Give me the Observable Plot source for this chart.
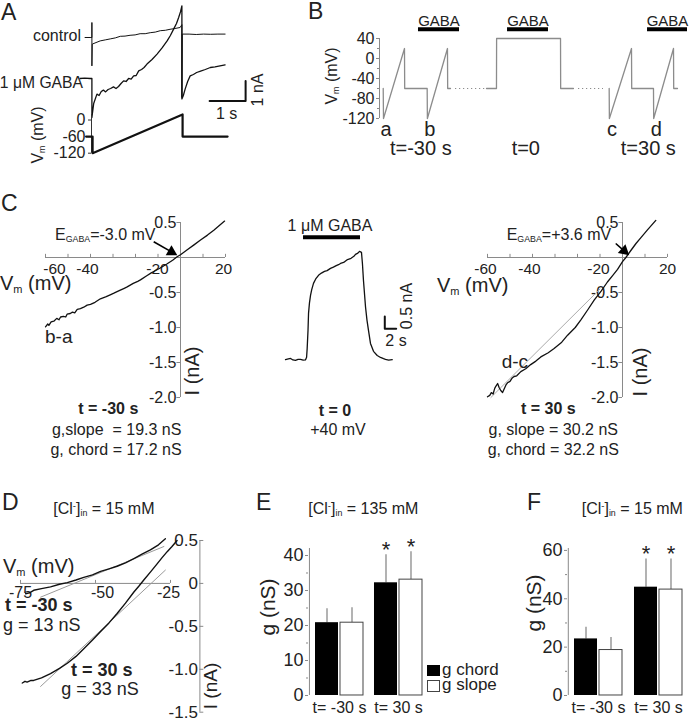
<!DOCTYPE html>
<html><head><meta charset="utf-8">
<script src="https://cdn.jsdelivr.net/npm/d3@7"></script>
<script src="https://cdn.jsdelivr.net/npm/@observablehq/plot@0.6"></script>
<style>
body{margin:0;background:#fff}
#fig{position:relative;width:690px;height:720px;overflow:hidden;font-family:'Liberation Sans',Arial,Helvetica,sans-serif;color:#222;background:#fff}
.lab{position:absolute;line-height:1;white-space:pre}
.lab sub{font-size:.55em;vertical-align:-.25em;line-height:0}
.lab sup{font-size:.6em;vertical-align:.55em;line-height:0}
.sq{position:absolute;box-sizing:border-box}
</style></head><body><div id="fig"></div><script>
// ---------------- DATA ----------------
// Panel A: currents (t in s, I in nA) and command voltage (t in s, mV)
const aControl = [[-0.19,0],[-0.05,0],[0,0],[0,0.75],[0,-1.42],[0.01,-0.33],[0.23,-0.17],[0.37,-0.12],[0.51,-0.07],[0.65,-0.02],[0.79,0.06],[0.92,0.07],[1.06,0.11],[1.2,0.13],[1.34,0.19],[1.48,0.19],[1.62,0.24],[1.76,0.27],[1.9,0.34],[2.04,0.36],[2.17,0.41],[2.31,0.45],[2.45,0.5],[2.5,0.64],[2.5,-3.0],[2.51,0.17],[2.7,0.17],[2.9,0.15],[3.1,0.17],[3.3,0.16],[3.5,0.17],[3.7,0.17]];
const aGaba = [[-0.33,-2.05],[-0.2,-2.03],[-0.05,-2.05],[0,-2.05],[0,-4.0],[0.05,-3.3],[0.14,-2.83],[0.2,-2.9],[0.26,-2.7],[0.32,-2.63],[0.38,-2.72],[0.45,-2.6],[0.52,-2.55],[0.6,-2.47],[0.67,-2.55],[0.74,-2.45],[0.81,-2.3],[0.88,-2.17],[0.95,-2.2],[1.02,-2.05],[1.09,-2.08],[1.16,-1.92],[1.23,-1.9],[1.3,-1.67],[1.38,-1.6],[1.45,-1.5],[1.53,-1.33],[1.67,-1.1],[1.81,-0.83],[1.95,-0.52],[2.09,-0.17],[2.18,0.1],[2.27,0.42],[2.35,0.7],[2.41,1.0],[2.46,1.28],[2.5,1.58],[2.5,-3.07],[2.54,-2.9],[2.59,-2.58],[2.66,-2.2],[2.73,-1.92],[2.82,-1.85],[2.91,-1.75],[3.02,-1.68],[3.15,-1.6],[3.29,-1.5],[3.42,-1.47],[3.56,-1.42],[3.7,-1.37]];
const aVm = [[-0.18,-60],[0,-60],[0,-120],[2.5,20],[2.5,-60],[3.75,-60]];
const aScaleBar = [[3.27,-3.17],[4.27,-3.17],[4.27,-2.17]];   // 1 s, 1 nA
const aVmTicks = [0,-60,-120];

// Panel B: voltage protocol (schematic time units, mV)
const bSweep1 = [[0.53,-60],[0.57,-120],[3.57,20],[3.6,-60],[6.81,-60],[6.84,-120],[9.71,20],[9.74,-60],[10.14,-60]];
const bSweep2 = [[15.29,-60],[16.71,-60],[16.73,40],[25.86,40],[25.88,-60],[27.71,-60]];
const bSweep3 = [[32.81,-60],[32.84,-120],[36.0,20],[36.03,-60],[39.14,-60],[39.17,-120],[42.0,20],[42.03,-60],[42.57,-60]];
const bGaps = [[10.86,15.14],[28.43,32.0]];
const bGaba = [[5.57,11.43],[18.29,24.14],[38.29,44.0]];
const bVmTicks = [40,0,-40,-80,-120];
const bVmMinor = [20,-20,-60,-100];
const bRampNames = ["a","b","c","d"];
const bRampStarts = [0.57,6.84,32.84,39.17];
const bEpochNames = ["t=-30 s","t=0","t=30 s"];
const bEpochTimes = [5.9,20.9,38.4];

// Panel C: I-V difference currents (mV, nA) and GABA current at +40 mV (s, nA)
const cBA = [[-60,-0.99],[-59,-0.95],[-58.5,-0.97],[-57.5,-0.92],[-56.3,-0.91],[-55,-0.87],[-54,-0.89],[-53.3,-0.85],[-52,-0.84],[-51,-0.85],[-50.4,-0.81],[-49,-0.8],[-48,-0.78],[-47,-0.79],[-45.9,-0.74],[-44.5,-0.73],[-43,-0.71],[-41.5,-0.68],[-40,-0.67],[-38,-0.64],[-35.6,-0.59],[-33,-0.56],[-31,-0.53],[-29.6,-0.51],[-27,-0.47],[-25,-0.44],[-23.7,-0.42],[-21,-0.37],[-19,-0.34],[-17.8,-0.32],[-15,-0.26],[-13,-0.22],[-11.9,-0.2],[-9,-0.15],[-7,-0.11],[-5.9,-0.09],[-3.5,-0.04],[-1.5,0.01],[0,0.04],[3,0.11],[6,0.18],[8.9,0.25],[12,0.32],[14.8,0.39],[17,0.45],[19.6,0.52]];
const cDC = [[-60,-1.99],[-59,-1.97],[-58.3,-1.93],[-57.5,-1.95],[-56.8,-1.87],[-56.3,-1.84],[-55.5,-1.8],[-54.8,-1.86],[-54.1,-1.9],[-53.3,-1.93],[-52.6,-1.88],[-51.8,-1.82],[-51.1,-1.79],[-50,-1.77],[-49,-1.72],[-48.2,-1.7],[-47,-1.69],[-45.2,-1.63],[-43,-1.59],[-40.8,-1.53],[-38.5,-1.48],[-36.3,-1.42],[-33,-1.36],[-30.4,-1.3],[-27,-1.21],[-24.4,-1.11],[-21,-1.0],[-18.5,-0.89],[-15.5,-0.75],[-12.6,-0.61],[-9.5,-0.48],[-6.7,-0.35],[-4.4,-0.26],[-2.2,-0.17],[0,-0.06],[1.5,0],[3.7,0.1],[6,0.2],[8.1,0.28],[11,0.39],[14.8,0.53]];
const cDCfit = [[-58.5,-2.0],[-10,-0.45]];
const cMid = [[0,0],[0.5,0.03],[0.9,0.05],[1.3,-0.01],[1.75,-0.03],[2.2,0.01],[2.63,0.01],[3.1,-0.02],[3.5,-0.01],[3.7,0.1],[3.8,0.45],[3.95,1.2],[4.04,1.88],[4.2,2.3],[4.39,2.61],[4.6,2.85],[4.91,3.1],[5.3,3.28],[5.79,3.43],[6.3,3.52],[6.84,3.59],[7.3,3.62],[7.89,3.71],[8.4,3.76],[8.9,3.82],[9.3,3.86],[9.65,3.91],[10.2,3.95],[10.88,4.07],[11.5,4.12],[12.0,4.2],[12.28,4.28],[12.7,4.33],[12.98,4.4],[13.33,4.36],[13.5,3.9],[13.68,3.22],[14.04,2.14],[14.3,1.6],[14.56,1.19],[14.91,0.66],[15.44,0.34],[16.09,0.17],[16.67,0.09],[17.2,0.04],[17.54,0.01],[18.1,-0.02],[18.72,0]];
const cMidGaba = [3.16,13.16];
const cMidScale = [[17.42,1.76],[17.42,1.26],[19.42,1.26]];  // 0.5 nA, 2 s
const cVMinor = [-60,-50,-40,-30,-20,-10,10,20];
const cVLabels = [-60,-40,-20,20];
const cITicks = [0.5,-0.5,-1.0,-1.5,-2.0];
const cArrowBA = [-11.9,0.225,-1.5,0.034];
const cArrowDC = [-3.0,0.2,2.9,0.034];

// Panel D: I-V at 15 mM Cl- (mV, nA)
const dMinus30 = [[-73.3,-0.12],[-72,-0.11],[-70.6,-0.08],[-68,-0.06],[-65,-0.04],[-62,-0.01],[-59.4,0.01],[-56.5,0.04],[-53.9,0.07],[-51,0.1],[-48.3,0.14],[-45.5,0.17],[-42.8,0.2],[-40,0.24],[-37.2,0.29],[-34.5,0.34],[-31.7,0.39],[-29,0.45],[-26.7,0.52]];
const dMinus30Fit = [[-68.3,-0.16],[-27.2,0.43]];
const dPlus30 = [[-74.4,-1.16],[-73.5,-1.14],[-72.8,-1.15],[-71.5,-1.13],[-70.6,-1.13],[-68,-1.1],[-65,-1.05],[-62,-0.99],[-59.4,-0.93],[-56.5,-0.85],[-53.9,-0.76],[-51,-0.66],[-48.3,-0.56],[-45.5,-0.46],[-42.8,-0.35],[-40,-0.23],[-37.2,-0.1],[-35.5,-0.03],[-33.9,0.04],[-31.5,0.14],[-29.4,0.23],[-27.8,0.3],[-26.1,0.37],[-24.5,0.43],[-22.8,0.5]];
const dPlus30Fit = [[-68.3,-1.2],[-26.7,0.155]];
const dVTicks = [-75,-50,-25];
const dITicks = [0.5,0,-0.5,-1.0,-1.5];

// Panels E, F: conductance bars (nS), mean and SEM
const groups = ["t= -30 s","t= 30 s"];
const eChord = [20.8,32.2], eChordErr = [4.0,8.0];
const eSlope = [20.8,33.1], eSlopeErr = [4.3,8.0];
const fChord = [23.4,44.8], fChordErr = [4.8,11.7];
const fSlope = [18.8,43.8], fSlopeErr = [5.2,12.7];
const significant = [false,true];
const eTicks = [0,10,20,30,40], eMinor = [5,15,25,35];
const fTicks = [0,20,40,60], fMinor = [10,30,50];

// ---------------- RENDER ----------------
const FONT = "'Liberation Sans', Arial, Helvetica, sans-serif";
const INK = "#222", AXIS = "#8a8a8a", TRACE_B = "#8c8c8c";
const fig = document.getElementById("fig");
const M = 60;
const X = d => d[0], Y = d => d[1];

function mount({fx, fy, fw, fh, x = {}, y = {}, marks}) {
  const svg = Plot.plot({
    width: fw + 2 * M, height: fh + 2 * M, margin: M,
    x: {axis: null, ...x}, y: {axis: null, ...y},
    style: {overflow: "visible", background: "transparent", fontFamily: FONT, color: INK, maxWidth: "none"},
    marks
  });
  Object.assign(svg.style, {position: "absolute", left: (fx - M) + "px", top: (fy - M) + "px"});
  fig.appendChild(svg);
}
function lab(html, x, base, {size = 16, anchor = "start", bold = false, rot = 0} = {}) {
  const d = document.createElement("div");
  d.className = "lab"; d.innerHTML = html;
  d.style.fontSize = size + "px"; if (bold) d.style.fontWeight = "bold";
  d.style.left = x + "px";
  if (rot) { d.style.top = base + "px"; d.style.transform = `translate(-50%,-50%) rotate(${rot}deg)`; }
  else {
    d.style.top = (base - 0.8465 * size) + "px";
    d.style.transform = `translateX(${anchor === "start" ? "0" : anchor === "end" ? "-100%" : "-50%"})`;
  }
  fig.appendChild(d);
}
function arrowMarks(a, kx, ky) {
  const pdx = (a[2] - a[0]) * kx, pdy = -(a[3] - a[1]) * ky;
  const len = Math.hypot(pdx, pdy), back = 6.5 / len;
  const ang = Math.atan2(pdy, pdx) * 180 / Math.PI;
  return [
    Plot.link([a], {x1: d => d[0], y1: d => d[1], x2: d => d[2] - (d[2] - d[0]) * back, y2: d => d[3] - (d[3] - d[1]) * back, stroke: "#000", strokeWidth: 1.6}),
    Plot.dot([a], {x: d => d[2] - (d[2] - d[0]) * back, y: d => d[3] - (d[3] - d[1]) * back, symbol: "triangle", r: 4.3, fill: "#000", stroke: "none", rotate: 90 + ang})
  ];
}
const fmt1 = d => d.toFixed(1);

// ---- Panel A ----
mount({fx: 77.3, fy: 0.7, fw: 172.8, fh: 120, x: {domain: [-0.4, 4.4]}, y: {domain: [-4.2, 1.8]}, marks: [
  Plot.line(aControl, {x: X, y: Y, stroke: "#111", strokeWidth: 1}),
  Plot.line(aGaba, {x: X, y: Y, stroke: "#111", strokeWidth: 1.3}),
  Plot.line(aScaleBar, {x: X, y: Y, stroke: "#111", strokeWidth: 2})
]});
const aVmDomain = [-0.03, 4.4];
mount({fx: 90.6, fy: 114, fw: 159.5, fh: 38.7, x: {domain: aVmDomain}, y: {domain: [-120, 20]}, marks: [
  Plot.ruleX([aVmDomain[0]], {stroke: "#333", y1: -120, y2: 20}),
  Plot.axisY({ticks: aVmTicks, tickSize: 3, tickPadding: 3, fontSize: 16, label: null, stroke: "#333", tickFormat: d => String(d)}),
  Plot.line(aVm, {x: X, y: Y, stroke: "#111", strokeWidth: 2.2})
]});
lab("A", 1, 20, {size: 23});
lab("control", 81, 41.7, {anchor: "end"});
lab("1 μM GABA", 83, 88.3, {anchor: "end", size: 15.7});
lab("1 s", 226.7, 120, {anchor: "middle"});
lab("1 nA", 257.5, 90, {rot: -90});
lab("V<sub>m</sub> (mV)", 38, 135, {rot: -90});

// ---- Panel B ----
mount({fx: 379, fy: 38, fw: 308, fh: 80, x: {domain: [0, 44]}, y: {domain: [-120, 40]}, marks: [
  Plot.ruleX([0], {stroke: AXIS}),
  Plot.axisY({ticks: bVmTicks, tickSize: 3, tickPadding: 2, fontSize: 16, label: null, stroke: AXIS, tickFormat: d => String(d)}),
  Plot.axisY({ticks: bVmMinor, tickSize: 2, label: null, stroke: AXIS, tickFormat: () => ""}),
  Plot.ruleY(bGaps, {x1: X, x2: Y, y: -60, stroke: TRACE_B, strokeWidth: 1.2, strokeDasharray: "1.2,2.8"}),
  ...[bSweep1, bSweep2, bSweep3].map(s => Plot.line(s, {x: X, y: Y, stroke: TRACE_B, strokeWidth: 1.3})),
  Plot.ruleY(bGaba, {x1: X, x2: Y, y: 58.6, stroke: "#000", strokeWidth: 4}),
  Plot.text(bGaba, {x: d => (d[0] + d[1]) / 2, y: 58.6, dy: -8.5, text: () => "GABA", fontSize: 15, fill: INK}),
  Plot.text(bRampNames, {x: (d, i) => bRampStarts[i], y: -120, dy: 11, dx: 2.5, text: d => d, fontSize: 20, fill: INK}),
  Plot.text(bEpochNames, {x: (d, i) => bEpochTimes[i], y: -120, dy: 30.5, text: d => d, fontSize: 20, fill: INK})
]});
lab("B", 308, 19.5, {size: 23});
lab("V<sub>m</sub> (mV)", 331.7, 76, {rot: -90});

// ---- Panel C ----
const cKx = 2.25, cKy = 70;
function ivAxes(shift) {
  return [
    Plot.ruleY([0], {stroke: AXIS}),
    Plot.ruleX([0], {stroke: AXIS}),
    Plot.ruleX(cVMinor, {x: d => d, y1: 0, y2: 0.045, stroke: AXIS}),
    Plot.ruleY(cITicks, {y: d => d, x1: -1.6, x2: 0, stroke: AXIS}),
    ...cVLabels.map(v => Plot.text([v], {x: d => d, y: 0, dy: 12, dx: shift[v] || 0, text: d => String(d), fontSize: 15.5, fill: INK})),
    Plot.text(cITicks, {x: 0, y: d => d, dx: -4, textAnchor: "end", text: fmt1, fontSize: 16, fill: INK})
  ];
}
mount({fx: 45, fy: 221.7, fw: 180, fh: 175, x: {domain: [-60, 20]}, y: {domain: [-2, 0.5]}, marks: [
  ...ivAxes({"-60": 9, "-40": -3, "-20": 22, "20": -2}),
  Plot.line(cBA, {x: X, y: Y, stroke: "#111", strokeWidth: 1.3}),
  ...arrowMarks(cArrowBA, cKx, cKy)
]});
mount({fx: 486.7, fy: 221.7, fw: 180, fh: 175, x: {domain: [-60, 20]}, y: {domain: [-2, 0.5]}, marks: [
  ...ivAxes({"-60": -2, "-40": -3, "-20": 21, "20": 0}),
  Plot.line(cDCfit, {x: X, y: Y, stroke: "#aaa", strokeWidth: 1}),
  Plot.line(cDC, {x: X, y: Y, stroke: "#111", strokeWidth: 1.3}),
  ...arrowMarks(cArrowDC, cKx, cKy)
]});
mount({fx: 285, fy: 246.1, fw: 114, fh: 113.2, x: {domain: [0, 20]}, y: {domain: [0, 4.6]}, marks: [
  Plot.line(cMid, {x: X, y: Y, stroke: "#111", strokeWidth: 1.3}),
  Plot.ruleY([cMidGaba], {x1: X, x2: Y, y: 4.98, stroke: "#000", strokeWidth: 4}),
  Plot.line(cMidScale, {x: X, y: Y, stroke: "#111", strokeWidth: 2})
]});
lab("C", 1, 211.7, {size: 23});
lab("E<sub>GABA</sub>=-3.0 mV", 55, 240.7, {size: 16});
lab("E<sub>GABA</sub>=+3.6 mV", 506.7, 240.7, {size: 16});
lab("V<sub>m</sub> (mV)", 0, 290, {size: 20});
lab("V<sub>m</sub> (mV)", 437, 291.5, {size: 20});
lab("b-a", 45, 343.3, {size: 19});
lab("d-c", 501.7, 368, {size: 19});
lab("I (nA)", 192, 371, {size: 20, rot: -90});
lab("I (nA)", 640, 371.7, {size: 20, rot: -90});
lab("t = -30 s", 108.3, 415, {anchor: "middle", bold: true});
lab("g,slope  = 19.3 nS", 116.7, 435.5, {anchor: "middle"});
lab("g, chord = 17.2 nS", 116, 455.5, {anchor: "middle"});
lab("1 μM GABA", 330, 231.7, {anchor: "middle"});
lab("0.5 nA", 406.7, 306, {rot: -90});
lab("2 s", 396, 346.7, {anchor: "middle"});
lab("t = 0", 335, 416.7, {anchor: "middle", bold: true});
lab("+40 mV", 338, 435.5, {anchor: "middle"});
lab("t = 30 s", 548.3, 415, {anchor: "middle", bold: true});
lab("g, slope = 30.2 nS", 553.3, 435.5, {anchor: "middle"});
lab("g, chord = 32.2 nS", 553.3, 455.5, {anchor: "middle"});

// ---- Panel D ----
mount({fx: 20, fy: 540, fw: 179.4, fh: 171.7, x: {domain: [-75, -15.2]}, y: {domain: [-1.5, 0.5]}, marks: [
  Plot.ruleY([0], {x1: dVTicks[0], x2: dVTicks[dVTicks.length - 1], stroke: AXIS}),
  Plot.ruleX([-15.2], {stroke: AXIS}),
  Plot.ruleY(dITicks, {y: d => d, x1: -15.2, x2: -13.9, stroke: AXIS}),
  Plot.ruleX(dVTicks, {x: d => d, y1: 0, y2: 0.035, stroke: AXIS}),
  Plot.text(dITicks, {y: d => d, frameAnchor: "right", dx: -2, textAnchor: "end", text: d => d === 0 ? "0" : fmt1(d), fontSize: 17, fill: INK}),
  ...dVTicks.map((v, i) => Plot.text([v], {x: d => d, y: 0, dy: 9, dx: [0, 7, -2][i], text: d => String(d), fontSize: 16, fill: INK})),
  Plot.line(dMinus30Fit, {x: X, y: Y, stroke: "#9a9a9a", strokeWidth: 1}),
  Plot.line(dPlus30Fit, {x: X, y: Y, stroke: "#9a9a9a", strokeWidth: 1}),
  Plot.line(dMinus30, {x: X, y: Y, stroke: "#111", strokeWidth: 1.4}),
  Plot.line(dPlus30, {x: X, y: Y, stroke: "#111", strokeWidth: 1.4})
]});
lab("D", 2, 510, {size: 23});
lab("[Cl<sup>-</sup>]<sub>in</sub> = 15 mM", 53.3, 515);
lab("V<sub>m</sub> (mV)", 3, 573, {size: 20});
lab("t = -30 s", 5, 611.5, {size: 18, bold: true});
lab("g = 13 nS", 3, 631.5, {size: 18});
lab("t = 30 s", 101.7, 676.7, {size: 18, bold: true, anchor: "middle"});
lab("g = 33 nS", 100, 695, {size: 18, anchor: "middle"});
lab("I (nA)", 210, 686, {size: 19, rot: -90});

// ---- Panels E, F ----
function barPanel({fx, fw, domainMax, pi, po, chord, chordErr, slope, slopeErr, ticks, minor}) {
  const rows = groups.map((g, i) => ({g, chord: chord[i], ce: chordErr[i], slope: slope[i], se: slopeErr[i], sig: significant[i]}));
  const step = fw / (groups.length - pi + 2 * po);
  const firstCenter = po * step + step * (1 - pi) / 2;   // distance from frame left to first band centre
  mount({fx, fy: 548, fw, fh: 147,
    x: {type: "band", domain: groups, paddingInner: pi, paddingOuter: po},
    y: {domain: [0, domainMax]}, marks: [
      Plot.ruleX([groups[0]], {stroke: AXIS, dx: -firstCenter}),
      Plot.ruleX(rows, {x: "g", y1: "chord", y2: d => d.chord + d.ce, dx: -12.5, stroke: AXIS, strokeWidth: 1.3}),
      Plot.ruleX(rows, {x: "g", y1: "slope", y2: d => d.slope + d.se, dx: 12.5, stroke: AXIS, strokeWidth: 1.3}),
      Plot.barY(rows, {x: "g", y: "chord", fill: "#000", insetRight: 25}),
      Plot.barY(rows, {x: "g", y: "slope", fill: "#fff", stroke: "#444", strokeWidth: 1, insetLeft: 25}),
      Plot.text(rows.filter(d => d.sig), {x: "g", y: d => d.chord + d.ce, dx: -12.5, dy: -5, text: () => "*", fontSize: 22, fill: INK}),
      Plot.text(rows.filter(d => d.sig), {x: "g", y: d => d.slope + d.se, dx: 12.5, dy: -5, text: () => "*", fontSize: 22, fill: INK}),
      Plot.axisY({ticks, tickSize: 3, tickPadding: 2, fontSize: 18, label: null, stroke: AXIS, tickFormat: d => String(d)}),
      Plot.axisY({ticks: minor, tickSize: 2, label: null, stroke: AXIS, tickFormat: () => ""}),
      Plot.axisX({tickSize: 0, tickPadding: 6, fontSize: 16, label: null, fill: INK})
    ]});
}
barPanel({fx: 308.3, fw: 120.1, domainMax: 42, pi: 0.188, po: 0.095, chord: eChord, chordErr: eChordErr, slope: eSlope, slopeErr: eSlopeErr, ticks: eTicks, minor: eMinor});
barPanel({fx: 567.3, fw: 121.1, domainMax: 60.8, pi: 0.203, po: 0.099, chord: fChord, chordErr: fChordErr, slope: fSlope, slopeErr: fSlopeErr, ticks: fTicks, minor: fMinor});
lab("E", 256, 510, {size: 23});
lab("[Cl<sup>-</sup>]<sub>in</sub> = 135 mM", 308.3, 515);
lab("g (nS)", 267, 607, {size: 21, rot: -90});
lab("F", 527, 510, {size: 23});
lab("[Cl<sup>-</sup>]<sub>in</sub> = 15 mM", 581.7, 515);
lab("g (nS)", 533.3, 603, {size: 21, rot: -90});
// legend
const sq1 = document.createElement("div"); sq1.className = "sq";
Object.assign(sq1.style, {left: "427px", top: "665px", width: "13px", height: "11px", background: "#000"});
const sq2 = document.createElement("div"); sq2.className = "sq";
Object.assign(sq2.style, {left: "427px", top: "680px", width: "13px", height: "12px", background: "#fff", border: "1px solid #444"});
fig.appendChild(sq1); fig.appendChild(sq2);
lab("g chord", 442, 675.5, {size: 17});
lab("g slope", 442, 690.5, {size: 17});
</script></body></html>
